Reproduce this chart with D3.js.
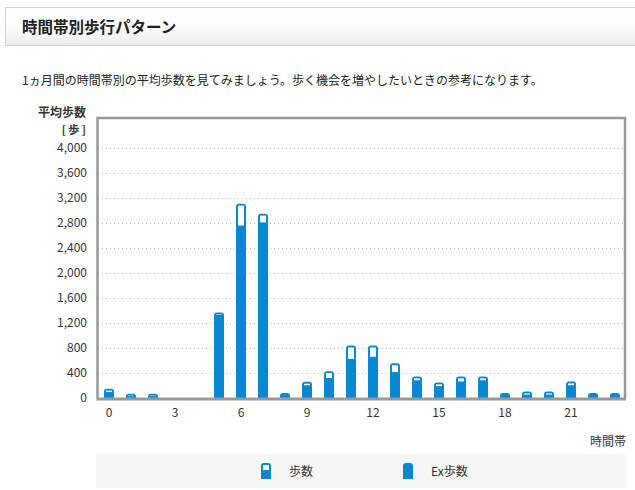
<!DOCTYPE html>
<html><head><meta charset="utf-8">
<script src="https://cdn.jsdelivr.net/npm/d3@7"></script>
<style>
body{margin:0;background:#fff;font-family:"Noto Sans CJK JP","Noto Sans",sans-serif;}
svg{display:block}
</style></head>
<body><svg id="c" width="635" height="490"></svg>
<script>
const hours = [0,1,2,3,4,5,6,7,8,9,10,11,12,13,14,15,16,17,18,19,20,21,22,23];
const steps   = [150,70,70,0,0,1370,3110,2950,80,260,430,840,840,555,345,250,345,345,80,105,105,265,80,80];
const exSteps = [95,30,30,0,0,1330,2760,2810,70,205,320,625,660,415,285,190,265,285,70,55,55,205,70,70];
const yTicks = [0,400,800,1200,1600,2000,2400,2800,3200,3600,4000];
const xTickLabels = [0,3,6,9,12,15,18,21];
const seriesNames = ["歩数","Ex歩数"];

const svg = d3.select("#c");
const blue = "#0788d0";
const txt = "#333";

// header
const defs = svg.append("defs");
const g1 = defs.append("linearGradient").attr("id","hg").attr("x1",0).attr("y1",0).attr("x2",0).attr("y2",1);
g1.append("stop").attr("offset","0").attr("stop-color","#ffffff");
g1.append("stop").attr("offset","0.5").attr("stop-color","#fcfcfc");
g1.append("stop").attr("offset","1").attr("stop-color","#ececec");
svg.append("rect").attr("x",5.5).attr("y",7.5).attr("width",640).attr("height",38)
  .attr("fill","url(#hg)").attr("stroke","#d4d4d4");
svg.append("text").attr("x",22).attr("y",33).attr("font-size",15.5).attr("font-weight","bold")
  .attr("fill","#222").text("時間帯別歩行パターン");
svg.append("text").attr("x",22).attr("y",85).attr("font-size",12).attr("fill","#222")
  .text("1ヵ月間の時間帯別の平均歩数を見てみましょう。歩く機会を増やしたいときの参考になります。");

// scales
const x = d3.scaleBand().domain(hours).range([98,626]).paddingInner(12/22).paddingOuter(6/22);
const y = d3.scaleLinear().domain([0,4480]).range([398,118]);
const L = 98, R = 626;

// grid
svg.append("g").selectAll("line").data(yTicks.filter(d=>d>0)).join("line")
  .attr("x1",L).attr("x2",R-2).attr("y1",d=>Math.round(y(d))+0.5).attr("y2",d=>Math.round(y(d))+0.5)
  .attr("stroke","#bbb").attr("stroke-dasharray","1,3");

// y axis labels
const yAxis = d3.axisLeft(y).tickValues(yTicks).tickFormat(d3.format(",")).tickSize(0).tickPadding(0);
const ya = svg.append("g").attr("transform","translate(87,0)").call(yAxis);
ya.select(".domain").remove();
ya.selectAll("text").attr("font-size",12).attr("fill",txt).attr("font-family","'Noto Sans CJK JP',sans-serif");

svg.append("text").attr("x",86).attr("y",116.5).attr("text-anchor","end").attr("font-size",12)
  .attr("font-weight","bold").attr("fill",txt).text("平均歩数");
svg.append("text").attr("x",86).attr("y",134).attr("text-anchor","end").attr("font-size",11)
  .attr("font-weight","bold").attr("fill",txt).text("[ 歩 ]");

// bars
function topRounded(x0,w,yt,yb,r){
  r = Math.min(r, (yb-yt), w/2);
  return `M${x0},${yb}V${yt+r}Q${x0},${yt} ${x0+r},${yt}H${x0+w-r}Q${x0+w},${yt} ${x0+w},${yt+r}V${yb}Z`;
}
const bars = svg.append("g");
hours.forEach((h,i)=>{
  const v = steps[i], e = exSteps[i];
  if (v<=0) return;
  const x0 = x(h), w = x.bandwidth();
  const yt = y(v), yb = y(0);
  bars.append("path").attr("d", topRounded(x0,w,yt,yb,3)).attr("fill",blue);
  const inTop = yt+2, inBot = y(e);
  if (inBot-inTop>0.3){
    bars.append("rect").attr("x",x0+2).attr("y",inTop).attr("width",w-4).attr("height",inBot-inTop).attr("fill","#fff");
  }
});

// frame
svg.append("path").attr("d",`M${L-0.5},${y(0)}V${y(4480)}H${R-1}V${y(0)}`)
  .attr("fill","none").attr("stroke","#999").attr("stroke-width",2.5);
svg.append("line").attr("x1",L-1.5).attr("x2",R).attr("y1",y(0)+1).attr("y2",y(0)+1)
  .attr("stroke","#999").attr("stroke-width",3);

// x axis labels
const xAxis = d3.axisBottom(x).tickValues(xTickLabels).tickSize(0).tickPadding(0);
const xa = svg.append("g").attr("transform","translate(0,408)").call(xAxis);
xa.select(".domain").remove();
xa.selectAll("text").attr("font-size",12).attr("fill",txt).attr("dy","0.71em").attr("font-family","'Noto Sans CJK JP',sans-serif");
svg.append("text").attr("x",626).attr("y",446).attr("text-anchor","end").attr("font-size",12)
  .attr("fill",txt).text("時間帯");

// legend
svg.append("rect").attr("x",96).attr("y",454).attr("width",530).attr("height",34).attr("fill","#f6f6f6");
const lg = svg.append("g");
// icon 1
lg.append("path").attr("d",topRounded(261,10,463,479,3)).attr("fill",blue);
lg.append("rect").attr("x",263).attr("y",465).attr("width",6).attr("height",5).attr("fill","#fff");
lg.append("text").attr("x",289).attr("y",476).attr("font-size",12).attr("fill",txt).text(seriesNames[0]);
// icon 2
lg.append("path").attr("d",topRounded(403,10,463,479,3)).attr("fill",blue);
lg.append("text").attr("x",431).attr("y",476).attr("font-size",12).attr("fill",txt).text(seriesNames[1]);
</script></body></html>
